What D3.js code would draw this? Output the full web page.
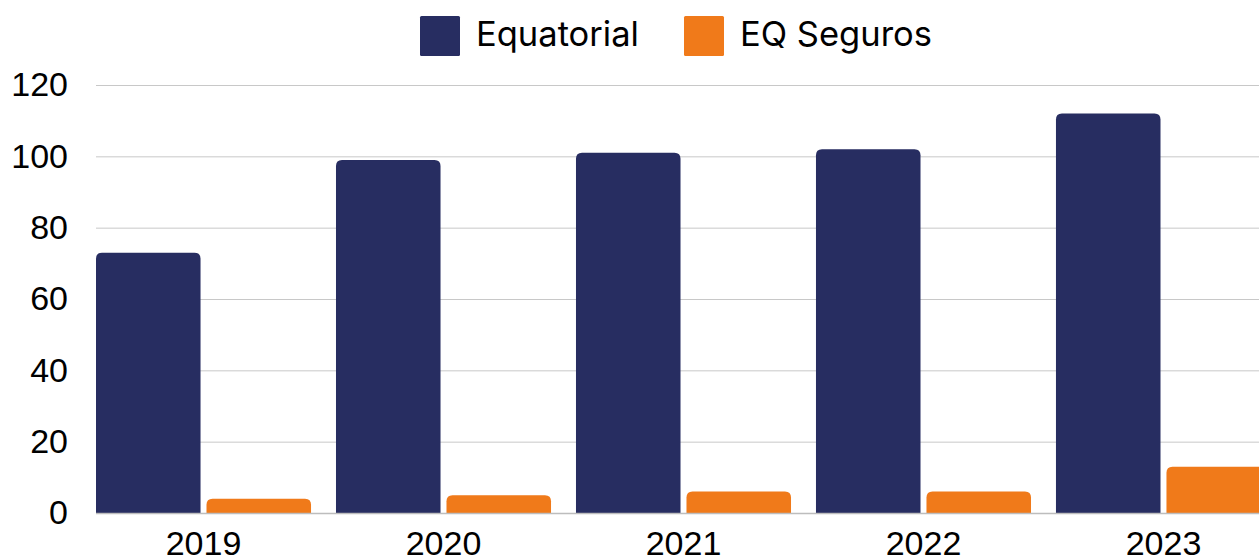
<!DOCTYPE html>
<html>
<head>
<meta charset="utf-8">
<script src="https://cdn.jsdelivr.net/npm/d3@7"></script>
<style>
  html, body { margin: 0; padding: 0; background: #fff; overflow: hidden; }
  svg { display: block; }
</style>
</head>
<body>
<div id="chart"></div>
<script>
// data
const years = ['2019', '2020', '2021', '2022', '2023'];
const seriesNames = ['Equatorial', 'EQ Seguros'];
const equatorial = [73, 99, 101, 102, 112];
const eqSeguros = [4, 5, 6, 6, 13];
const yTicks = [0, 20, 40, 60, 80, 100, 120];

const colors = ['#272d61', '#f07a1a'];
const width = 1259, height = 560;
const margin = { top: 85, left: 96, bottom: 513 };

const svg = d3.select('#chart').append('svg')
  .attr('width', width)
  .attr('height', height);

// scales
const y = d3.scaleLinear().domain([0, 120]).range([margin.bottom, margin.top]);
const x0 = d3.scaleBand().domain(years).range([96, 1271])
  .paddingInner(0.104).paddingOuter(0);
const x1 = d3.scaleBand().domain(seriesNames).range([0, x0.bandwidth()])
  .paddingInner(0.054).paddingOuter(0);

// gridlines
svg.append('g')
  .selectAll('line')
  .data(yTicks.filter(d => d > 0))
  .enter().append('line')
  .attr('x1', 96).attr('x2', width)
  .attr('y1', d => y(d) + 0.5).attr('y2', d => y(d) + 0.5)
  .attr('stroke', '#c8c8c8')
  .attr('stroke-width', 1);

// y axis labels
const yAxis = svg.append('g')
  .attr('transform', 'translate(68,0)')
  .call(d3.axisLeft(y).tickValues(yTicks).tickSize(0).tickPadding(0));
yAxis.select('.domain').remove();
yAxis.selectAll('text')
  .style('font-family', '"Liberation Sans", Arial, sans-serif')
  .style('font-size', '34px')
  .attr('fill', '#000');

// rounded-top bar
function barPath(x, yTop, w, yBase, r) {
  r = Math.min(r, w / 2, (yBase - yTop));
  return `M${x},${yBase}V${yTop + r}Q${x},${yTop} ${x + r},${yTop}` +
    `H${x + w - r}Q${x + w},${yTop} ${x + w},${yTop + r}V${yBase}Z`;
}

const rows = years.map((yr, i) => ({ year: yr, values: [equatorial[i], eqSeguros[i]] }));

const groups = svg.append('g')
  .selectAll('g')
  .data(rows)
  .enter().append('g')
  .attr('transform', d => `translate(${x0(d.year)},0)`);

groups.selectAll('path')
  .data(d => d.values.map((v, k) => ({ name: seriesNames[k], value: v, k })))
  .enter().append('path')
  .attr('fill', d => colors[d.k])
  .attr('d', d => barPath(x1(d.name), y(d.value), x1.bandwidth(), y(0), 6));

// baseline
svg.append('line')
  .attr('x1', 96).attr('x2', width)
  .attr('y1', y(0) + 0.5).attr('y2', y(0) + 0.5)
  .attr('stroke', '#bdbdbd')
  .attr('stroke-width', 1.5);

// x axis labels (cut at the bottom edge, as in the source)
const xAxis = svg.append('g')
  .attr('transform', `translate(0,${y(0)})`)
  .call(d3.axisBottom(x0).tickSize(0).tickPadding(18));
xAxis.select('.domain').remove();
xAxis.selectAll('text')
  .style('font-family', '"Liberation Sans", Arial, sans-serif')
  .style('font-size', '34px')
  .attr('fill', '#000');

// legend
const legendX = [420, 684];
const legend = svg.append('g');
seriesNames.forEach((name, i) => {
  legend.append('rect')
    .attr('x', legendX[i]).attr('y', 16)
    .attr('width', 40).attr('height', 40)
    .attr('rx', 1.5)
    .attr('fill', colors[i]);
  legend.append('text')
    .attr('x', legendX[i] + 56).attr('y', 34)
    .attr('dy', '0.36em')
    .style('font-family', 'Inter, "Noto Sans", sans-serif')
    .style('font-size', '34.5px')
    .attr('fill', '#000')
    .text(name);
});
</script>
</body>
</html>
